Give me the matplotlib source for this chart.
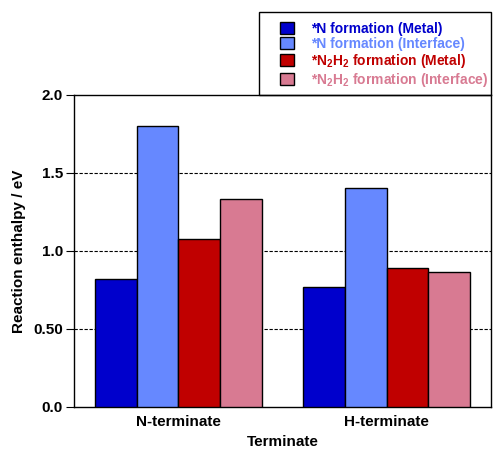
import numpy as np
import matplotlib.pyplot as plt
from matplotlib.patches import Rectangle

plt.rcParams['font.family'] = ['Liberation Sans', 'DejaVu Sans']
plt.rcParams['font.weight'] = 'bold'
plt.rcParams['mathtext.fontset'] = 'custom'
plt.rcParams['mathtext.rm'] = 'Liberation Sans:bold'
plt.rcParams['mathtext.default'] = 'rm'

# data
categories = ['N-terminate', 'H-terminate']
n_metal = [0.818, 0.771]
n_interface = [1.80, 1.406]
n2h2_metal = [1.077, 0.889]
n2h2_interface = [1.333, 0.867]
series_labels = ['*N formation (Metal)', '*N formation (Interface)',
                 '*N$_2$H$_2$ formation (Metal)', '*N$_2$H$_2$ formation (Interface)']
yticks = [0.0, 0.5, 1.0, 1.5, 2.0]
ytick_labels = ['0.0', '0.50', '1.0', '1.5', '2.0']

colors = ['#0000CC', '#6688FF', '#C00000', '#D87A92']
series = [n_metal, n_interface, n2h2_metal, n2h2_interface]

fig = plt.figure(figsize=(4.93, 4.5), dpi=100)
ax = fig.add_axes([0.150, 0.0956, 0.846, 0.6933])

x = np.arange(len(categories))
width = 0.2
handles = []
for i, (vals, c, lab) in enumerate(zip(series, colors, series_labels)):
    b = ax.bar(x + (i - 1.5) * width, vals, width, color=c, edgecolor='black',
               linewidth=1.0, label=lab, zorder=3)
    handles.append(b)

ax.set_xlim(-0.5, 1.5)
ax.set_ylim(0, 2.0)
ax.set_yticks(yticks)
ax.set_yticklabels(ytick_labels)
ax.set_xticks(x)
ax.set_xticklabels(categories)
ax.tick_params(axis='x', length=0, labelsize=11, pad=6)
ax.tick_params(axis='y', direction='out', length=6, width=0.8, labelsize=11, pad=2)
for s in ax.spines.values():
    s.set_linewidth(1.0)

# dashed grid lines behind the bars
for yv in [0.5, 1.0, 1.5]:
    ax.axhline(yv, color='black', linestyle=(0, (3, 1.5)), linewidth=0.8, zorder=1)

ax.set_ylabel('Reaction enthalpy / eV', fontsize=11, fontweight='bold', labelpad=5)
ax.set_xlabel('Terminate', fontsize=11, fontweight='bold', labelpad=4)

# legend box above the axes
fig.patches.append(Rectangle((259 / 493, 1 - 95 / 450), 232 / 493, 83 / 450,
                             transform=fig.transFigure, fill=False,
                             edgecolor='black', linewidth=1.0))
leg = fig.legend(handles=handles, loc='upper left',
                 bbox_to_anchor=(280 / 493, 1 - 21.5 / 450), frameon=False,
                 fontsize=10, handlelength=1.0, handleheight=1.0,
                 handletextpad=1.2, labelspacing=0.08, borderpad=0.0,
                 borderaxespad=0.0)
for t, c in zip(leg.get_texts(), colors):
    t.set_color(c)

fig.savefig('out.png', dpi=100)
